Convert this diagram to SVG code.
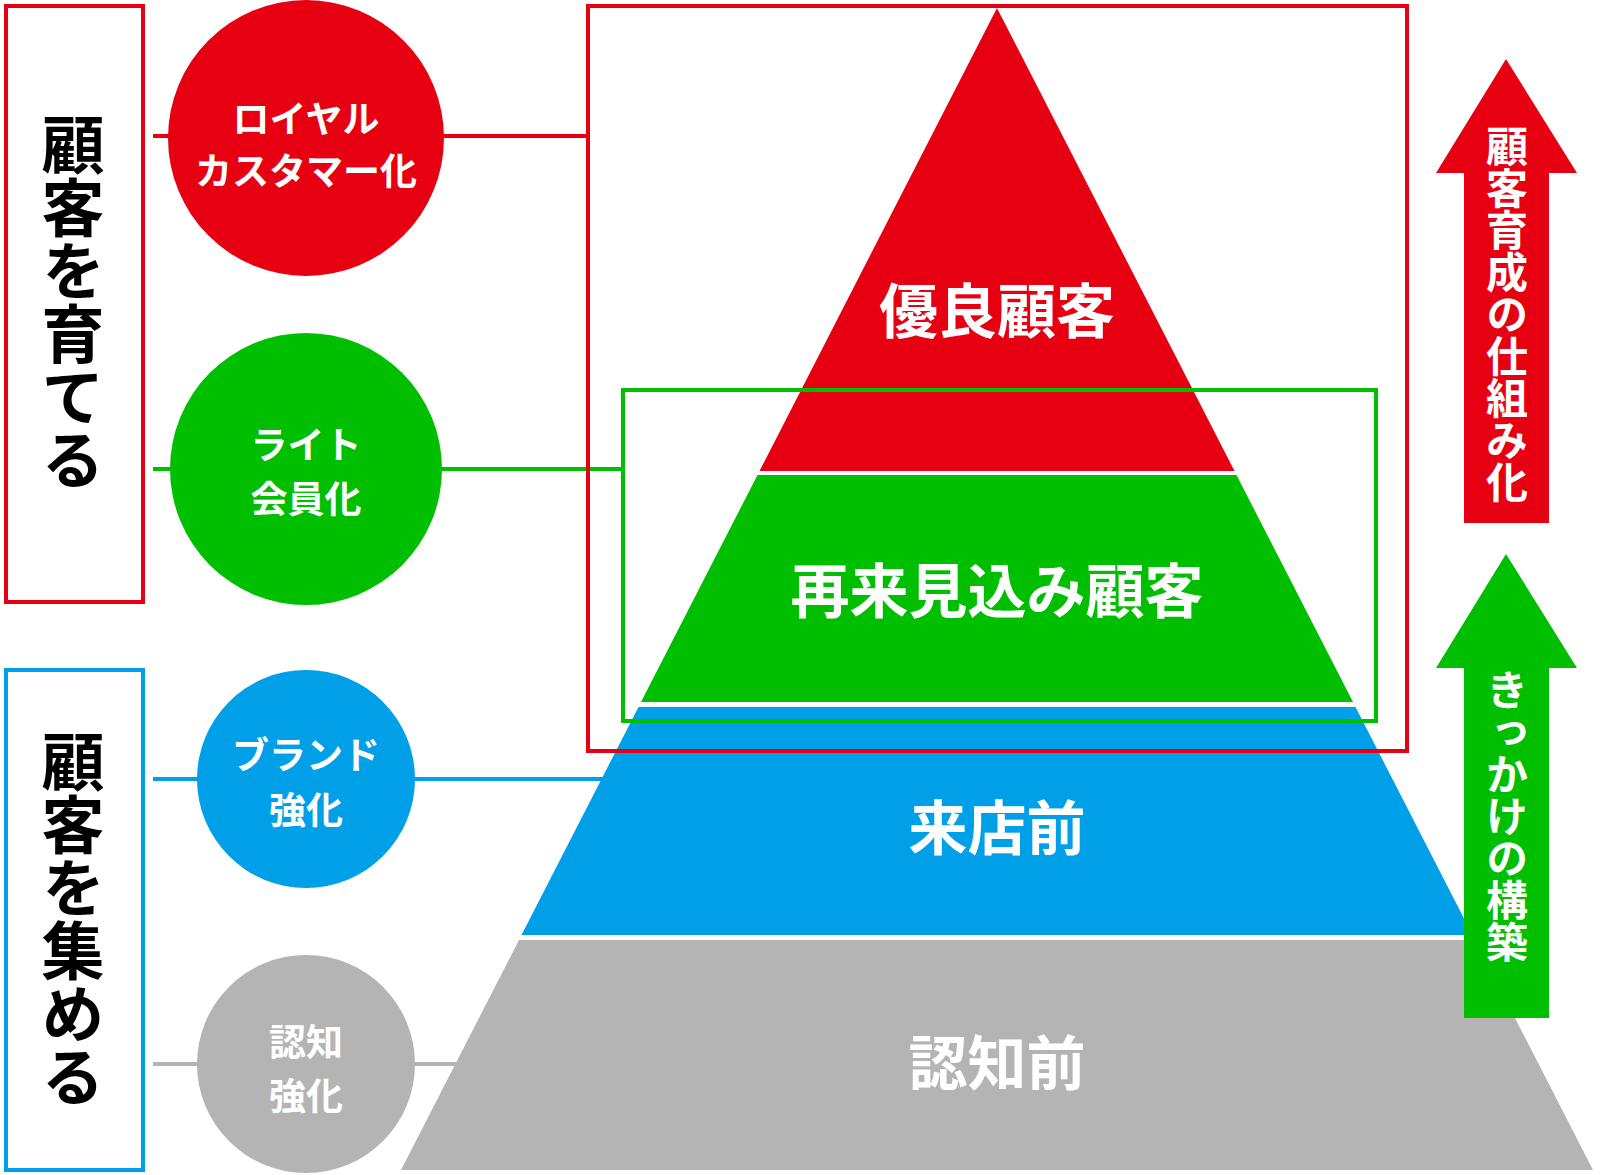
<svg xmlns="http://www.w3.org/2000/svg" width="1600" height="1175" viewBox="0 0 1600 1175">
<style>
.jp{font-family:"Noto Sans CJK JP","Noto Sans CJK SC",sans-serif;font-weight:700}
.ct{font-size:37px;fill:#fff;text-anchor:middle}
.pt{font-size:59px;fill:#fff;text-anchor:middle}
.vt{writing-mode:vertical-rl;text-anchor:middle}
.box{fill:none;stroke-width:4}
.ln{stroke-width:4;fill:none}
</style>
<rect width="1600" height="1175" fill="#fff"/>
<g id="connectors">
<line class="ln" x1="153" y1="136" x2="590" y2="136" stroke="#e60012"/>
<line class="ln" x1="153" y1="469" x2="624" y2="469" stroke="#00be00"/>
<line class="ln" x1="153" y1="779" x2="610" y2="779" stroke="#00a0e9"/>
<line class="ln" x1="153" y1="1064" x2="462" y2="1064" stroke="#b4b4b4"/>
</g>
<g id="pyramid">
<polygon id="layer-red" points="997,8 1234.5,471 759.5,471" fill="#e60012"/>
<polygon id="layer-green" points="757.5,475 1236.5,475 1353,702 641,702" fill="#00be00"/>
<polygon id="layer-blue" points="638.5,707 1355.5,707 1472.5,935 521.5,935" fill="#00a0e9"/>
<polygon id="layer-gray" points="519,940 1475,940 1593,1170 401,1170" fill="#b4b4b4"/>
<text class="jp pt" x="997" y="333">優良顧客</text>
<text class="jp pt" x="997" y="613">再来見込み顧客</text>
<text class="jp pt" x="997" y="850">来店前</text>
<text class="jp pt" x="997" y="1085" fill="#f2f2f2">認知前</text>
</g>
<g id="box-grow-frame">
<rect class="box" x="588" y="6" width="819" height="745" stroke="#e60012"/>
</g>
<g id="box-light-frame">
<rect class="box" x="623" y="390" width="753" height="331" stroke="#00be00"/>
</g>
<g id="label-grow">
<rect class="box" x="6" y="6" width="137" height="596" stroke="#e60012"/>
<text class="jp vt" x="73" y="302" font-size="63" fill="#000">顧客を育てる</text>
</g>
<g id="label-collect">
<rect class="box" x="6" y="670" width="137" height="500" stroke="#00a0e9"/>
<text class="jp vt" x="73" y="919" font-size="63" fill="#000">顧客を集める</text>
</g>
<g id="circle-royal">
<circle cx="306" cy="138" r="138" fill="#e60012"/>
<text class="jp ct" x="306" y="133">ロイヤル</text>
<text class="jp ct" x="306" y="185">カスタマー化</text>
</g>
<g id="circle-light">
<circle cx="306" cy="469" r="136" fill="#00be00"/>
<text class="jp ct" x="306" y="459">ライト</text>
<text class="jp ct" x="306" y="513">会員化</text>
</g>
<g id="circle-brand">
<circle cx="306" cy="779" r="109" fill="#00a0e9"/>
<text class="jp ct" x="306" y="769">ブランド</text>
<text class="jp ct" x="306" y="824">強化</text>
</g>
<g id="circle-aware">
<circle cx="306" cy="1064" r="109" fill="#b4b4b4"/>
<text class="jp ct" x="306" y="1056" fill="#f2f2f2">認知</text>
<text class="jp ct" x="306" y="1110" fill="#f2f2f2">強化</text>
</g>
<g id="arrow-grow">
<polygon points="1506,59 1577,173 1549,173 1549,523 1464,523 1464,173 1436,173" fill="#e60012"/>
<text class="jp vt" x="1507" y="314" font-size="42" fill="#fff">顧客育成の仕組み化</text>
</g>
<g id="arrow-trigger">
<polygon points="1506,554 1577,668 1549,668 1549,1018 1464,1018 1464,668 1436,668" fill="#00be00"/>
<text class="jp vt" x="1507" y="816" font-size="42" fill="#fff">きっかけの構築</text>
</g>
</svg>
